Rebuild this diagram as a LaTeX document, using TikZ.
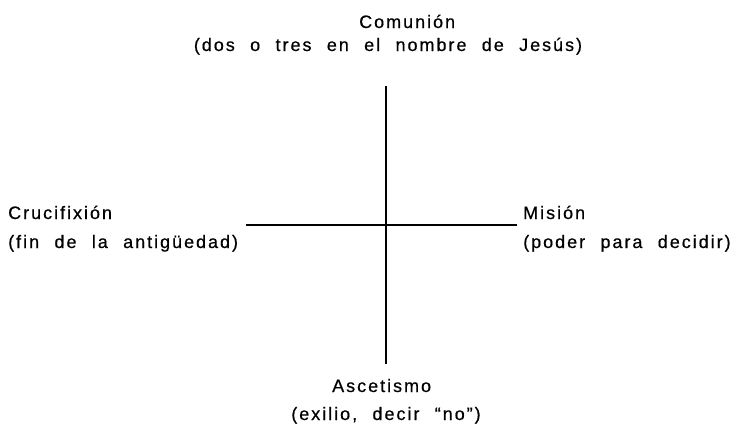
\documentclass[tikz,border=0pt]{standalone}
\usepackage{fontspec}
\setmainfont{Liberation Sans}[LetterSpace=11,WordSpace=2.2,FakeBold=0.5]
\begin{document}
\begin{tikzpicture}[x=1pt,y=-1pt,
  lbl/.style={inner sep=0pt, font=\fontsize{18}{18}\selectfont, text=black},
  axis/.style={draw=black, line width=1.2pt}]
\useasboundingbox[fill=white] (0,0) rectangle (738,431);
% labels
\node[lbl, anchor=base west] (com1) at (359,28) {Comunión};
\node[lbl, anchor=base] (com2) at (388,51) {(dos o tres en el nombre de Jesús)};
\node[lbl, anchor=base west] (cru1) at (8,219) {Crucifixión};
\node[lbl, anchor=base west] (cru2) at (8,248) {(fin de la antigüedad)};
\node[lbl, anchor=base west] (mis1) at (523,219) {Misión};
\node[lbl, anchor=base west] (mis2) at (523,248) {(poder para decidir)};
\node[lbl, anchor=base west] (asc1) at (332,392) {Ascetismo};
\node[lbl, anchor=base] (asc2) at (386,420) {(exilio, decir “no”)};
% axes
\coordinate (vt) at (386,86);
\coordinate (vb) at (386,364);
\coordinate (hl) at (246,225);
\coordinate (hr) at (517,225);
\draw[axis] (vt) -- (vb);
\draw[axis] (hl) -- (hr);
\end{tikzpicture}
\end{document}
